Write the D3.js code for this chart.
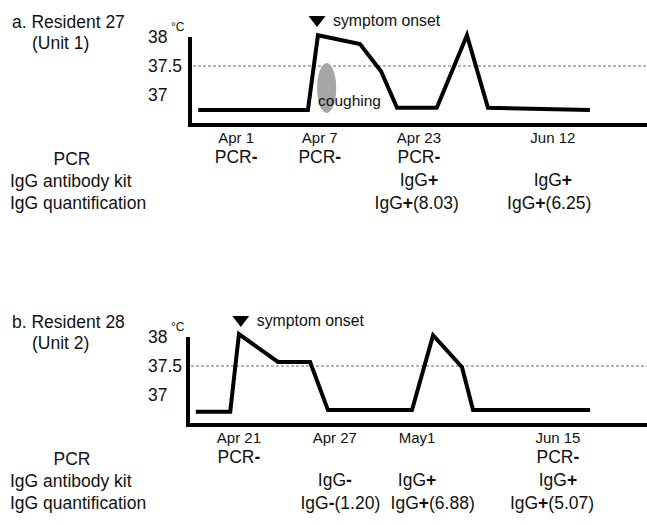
<!DOCTYPE html>
<html>
<head>
<meta charset="utf-8">
<script src="https://cdn.jsdelivr.net/npm/d3@7"></script>
<style>
  body { margin: 0; background: #fff; }
  svg { display: block; font-family: "Liberation Sans", Arial, sans-serif; }
</style>
</head>
<body>
<svg id="chart" width="647" height="525"></svg>
<script>
'use strict'

// shared
var tempTicks = [37, 37.5, 38];
var feverLine = 37.5;
var rowLabels = ["PCR", "IgG antibody kit", "IgG quantification"];

// panel a, resident 27
var titleA = ["a. Resident 27", "(Unit 1)"];
var datesA = ["Apr 1", "Apr 7", "Apr 23", "Jun 12"];
var datePosA = [10.1, 28.4, 50.1, 79.4]; // timeline units 0-100
var quantPosA = [10.1, 28.4, 49.6, 78.6];
var pcrA = ["PCR-", "PCR-", "PCR-", ""];
var kitA = ["", "", "IgG+", "IgG+"];
var quantA = ["", "", "IgG+(8.03)", "IgG+(6.25)"];
var timeA = [1.8, 25.8, 28.0, 37.2, 41.8, 45.3, 54.0, 60.6, 65.2, 87.5];
var tempA = [36.74, 36.74, 38.03, 37.88, 37.41, 36.78, 36.78, 38.03, 36.78, 36.74];
var onsetA = 27.8;
var coughTimeA = [27.8, 32.0];
var coughTempA = [36.69, 37.55];

// panel b, resident 28
var titleB = ["b. Resident 28", "(Unit 2)"];
var datesB = ["Apr 21", "Apr 27", "May1", "Jun 15"];
var datePosB = [11.1, 32.0, 49.9, 80.6];
var quantPosB = [11.1, 33.2, 53.3, 79.3];
var pcrB = ["PCR-", "", "", "PCR-"];
var kitB = ["", "IgG-", "IgG+", "IgG+"];
var quantB = ["", "IgG-(1.20)", "IgG+(6.88)", "IgG+(5.07)"];
var timeB = [1.7, 9.2, 11.1, 19.6, 26.6, 30.5, 48.8, 53.4, 59.7, 62.1, 87.6];
var tempB = [36.71, 36.71, 38.05, 37.57, 37.57, 36.74, 36.74, 38.03, 37.48, 36.74, 36.74];
var onsetB = 11.5;

var svg = d3.select("#chart");
var ink = "#111";

// puts the +/- signs in bold like the original figure
function signText(sel, str){
    str.split(/([+-])/).forEach(function(part){
        if(part === "") return;
        sel.append("tspan")
            .attr("font-weight", (part === "+" || part === "-") ? "bold" : null)
            .text(part);
    });
}

function drawPanel(p){
    var g = svg.append("g").attr("transform", "translate(0," + p.top + ")");
    var x = d3.scaleLinear().domain([0, 100]).range([p.left, 647]);
    var y = d3.scaleLinear().domain([37, 38]).range([95, 37]);
    var axisY = 125;

    // title
    g.append("text").attr("x", 12).attr("y", 28).attr("font-size", 17.5).attr("fill", ink).text(p.title[0]);
    g.append("text").attr("x", 32).attr("y", 49).attr("font-size", 17.5).attr("fill", ink).text(p.title[1]);

    // temperature tick labels
    g.selectAll(".tick").data(tempTicks).enter()
        .append("text")
        .attr("x", 148).attr("y", function(d){ return y(d) + 6; })
        .attr("font-size", 17.5).attr("fill", ink)
        .text(function(d){ return d; });
    g.append("text").attr("x", 171).attr("y", y(38) - 6)
        .attr("font-size", 12).attr("fill", ink).text("°C");

    // threshold
    g.append("line")
        .attr("x1", p.left + 3).attr("x2", 647)
        .attr("y1", y(feverLine)).attr("y2", y(feverLine))
        .attr("stroke", "#666").attr("stroke-width", 1).attr("stroke-dasharray", "3,2");

    // coughing mark
    if(p.coughTime){
        var cx = (x(p.coughTime[0]) + x(p.coughTime[1])) / 2;
        var cy = (y(p.coughTemp[0]) + y(p.coughTemp[1])) / 2;
        g.append("ellipse")
            .attr("cx", cx).attr("cy", cy)
            .attr("rx", (x(p.coughTime[1]) - x(p.coughTime[0])) / 2)
            .attr("ry", (y(p.coughTemp[0]) - y(p.coughTemp[1])) / 2)
            .attr("fill", "#a6a6a6");
        g.append("text").attr("x", x(p.coughTime[0]) + 1).attr("y", y(36.9) + 5)
            .attr("font-size", 15.5).attr("fill", ink).text("coughing");
    }

    // axes (L shape)
    g.append("path")
        .attr("d", "M" + p.left + "," + y(38) + "V" + axisY + "H647")
        .attr("fill", "none").attr("stroke", "#000").attr("stroke-width", 4)
        .attr("stroke-linejoin", "miter");

    // temperature line
    var pts = p.time.map(function(t, i){ return [t, p.temp[i]]; });
    var line = d3.line().x(function(d){ return x(d[0]); }).y(function(d){ return y(d[1]); });
    g.append("path").datum(pts)
        .attr("d", line)
        .attr("fill", "none").attr("stroke", "#000").attr("stroke-width", 4)
        .attr("stroke-linejoin", "miter");

    // symptom onset marker
    var ox = x(p.onset);
    g.append("path")
        .attr("d", "M" + (ox - 8.5) + ",16H" + (ox + 8.5) + "L" + ox + ",27Z")
        .attr("fill", "#000");
    g.append("text").attr("x", ox + 16).attr("y", 26)
        .attr("font-size", 15.8).attr("fill", ink).text("symptom onset");

    // dates
    g.selectAll(".date").data(p.dates).enter()
        .append("text")
        .attr("x", function(d, i){ return x(p.datePos[i]); })
        .attr("y", 143).attr("text-anchor", "middle")
        .attr("font-size", 15).attr("fill", ink)
        .text(function(d){ return d; });

    // row labels
    g.append("text").attr("x", 72).attr("y", 165).attr("text-anchor", "middle")
        .attr("font-size", 17.5).attr("fill", ink).text(rowLabels[0]);
    g.append("text").attr("x", 10).attr("y", 187)
        .attr("font-size", 17.5).attr("fill", ink).text(rowLabels[1]);
    g.append("text").attr("x", 10).attr("y", 209)
        .attr("font-size", 17.5).attr("fill", ink).text(rowLabels[2]);

    // result rows
    var rows = [p.pcr, p.kit, p.quant];
    var rowPos = [p.datePos, p.datePos, p.quantPos];
    var rowY = [163, 186, 209];
    rows.forEach(function(vals, r){
        vals.forEach(function(v, i){
            if(!v) return;
            var t = g.append("text")
                .attr("x", x(rowPos[r][i])).attr("y", rowY[r])
                .attr("text-anchor", "middle")
                .attr("font-size", 17.5).attr("fill", ink);
            signText(t, v);
        });
    });
}

drawPanel({top: 0, left: 190, title: titleA, dates: datesA, datePos: datePosA, quantPos: quantPosA,
    pcr: pcrA, kit: kitA, quant: quantA, time: timeA, temp: tempA, onset: onsetA,
    coughTime: coughTimeA, coughTemp: coughTempA});
drawPanel({top: 300, left: 188, title: titleB, dates: datesB, datePos: datePosB, quantPos: quantPosB,
    pcr: pcrB, kit: kitB, quant: quantB, time: timeB, temp: tempB, onset: onsetB});
</script>
</body>
</html>
